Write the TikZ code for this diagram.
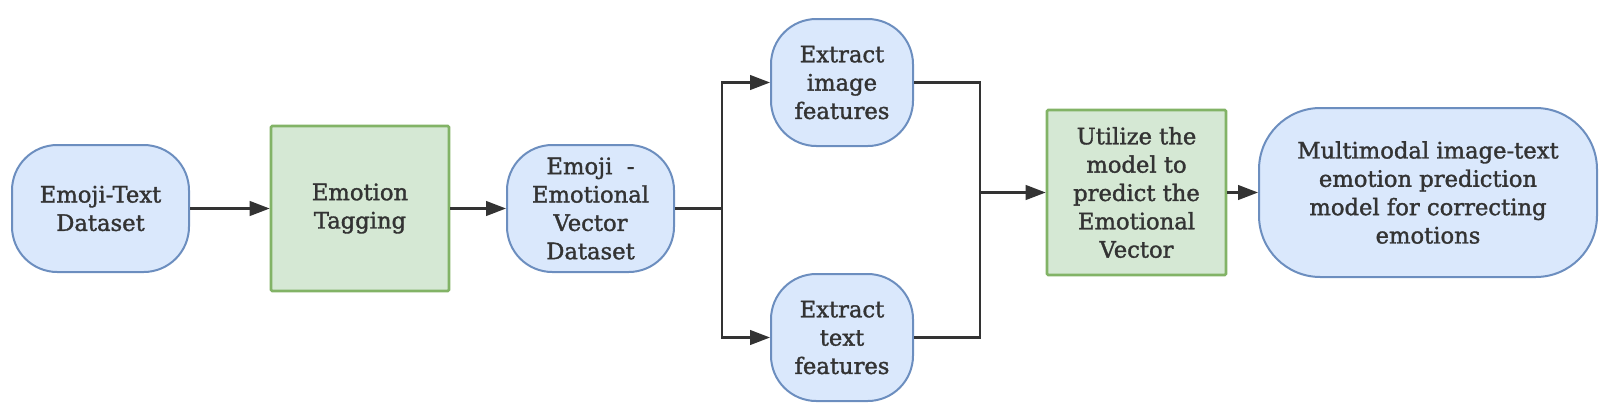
\documentclass[tikz,border=0pt]{standalone}
\usepackage{fontspec}
\setmainfont{DejaVu Serif}
\newfontfamily\nodefont[FakeBold=1.5]{DejaVu Serif}
\usetikzlibrary{arrows.meta}
\definecolor{bfill}{HTML}{DAE8FC}
\definecolor{bdraw}{HTML}{6C8EBF}
\definecolor{gfill}{HTML}{D5E8D4}
\definecolor{gdraw}{HTML}{82B366}
\definecolor{txt}{HTML}{333333}
\definecolor{ln}{HTML}{333333}
\tikzset{
  base/.style={align=center, text=txt, font=\nodefont\fontsize{17}{21.25}\selectfont, inner sep=0pt},
  term/.style={base, fill=bfill, draw=bdraw, line width=1.5pt, rounded corners=34pt},
  proc/.style={base, fill=gfill, draw=gdraw, line width=2pt, rounded corners=1pt},
  conn/.style={draw=ln, line width=1.7pt},
  arr/.style={conn, -{Triangle[length=15pt,width=11pt]}}
}
\begin{document}
\begin{tikzpicture}[x=0.75pt,y=-0.75pt]
\useasboundingbox (0,0) rectangle (1604,415);
\node[term, minimum width=132.75pt, minimum height=95.25pt] (A) at (100.5,208.5) {Emoji-Text\\Dataset};
\node[proc, minimum width=133.5pt, minimum height=123.75pt] (B) at (360,208.5) {Emotion\\Tagging};
\node[term, minimum width=125.25pt, minimum height=95.25pt] (C) at (590.5,208.5) {Emoji\ \ -\\Emotional\\Vector\\Dataset};
\node[term, minimum width=106.5pt, minimum height=95.25pt] (D) at (842,82.5) {Extract\\image\\features};
\node[term, minimum width=106.5pt, minimum height=95.25pt] (E) at (842,337.5) {Extract\\text\\features};
\node[proc, minimum width=134.25pt, minimum height=123.75pt] (F) at (1136.5,192.5) {Utilize the\\model to\\predict the\\Emotional\\Vector};
\node[term, rounded corners=46pt, minimum width=253.5pt, minimum height=126.75pt] (G) at (1428,192.5) {Multimodal image-text\\emotion prediction\\model for correcting\\emotions};
\coordinate (br) at (722,208.5);
\coordinate (mg) at (980,192.5);
\draw[arr] (A) -- (B);
\draw[arr] (B) -- (C);
\draw[conn] (C.east) -- (br);
\draw[arr] (br) |- (D.west);
\draw[arr] (br) |- (E.west);
\draw[conn] (D.east) -| (mg);
\draw[conn] (E.east) -| (mg);
\draw[arr] (mg) -- (F.west);
\draw[arr] (F) -- (G);
\end{tikzpicture}
\end{document}
